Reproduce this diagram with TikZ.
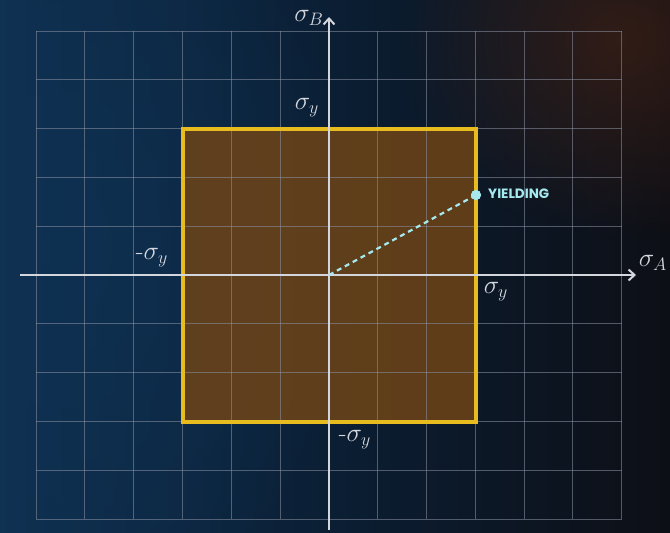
\documentclass[tikz,border=0pt]{standalone}
\usepackage{fontspec}
\setsansfont{Poppins}
\usetikzlibrary{arrows.meta,fadings}
\definecolor{bgleft}{HTML}{0F3152}
\definecolor{bgmid}{HTML}{0B1E33}
\definecolor{bgright}{HTML}{0D0F16}
\definecolor{glow}{HTML}{4A2414}
\definecolor{sqfill}{HTML}{6E4417}
\definecolor{sqedge}{HTML}{E8BC1E}
\definecolor{axiscol}{HTML}{D4D6DE}
\definecolor{gridcol}{HTML}{8C93A4}
\definecolor{cyanpt}{HTML}{A6EAF0}
\tikzfading[name=softglow, inner color=transparent!0, outer color=transparent!100]
\newcommand{\mlabtext}[1]{\scalebox{1.5}{#1}}
\tikzset{
  gridline/.style={draw=gridcol, line width=0.9pt, opacity=0.55},
  axisline/.style={draw=axiscol, line width=2.6pt, -{Straight Barb[length=6pt,width=11pt,line width=2pt]}},
  mathlabel/.style={text=axiscol, font=\fontsize{17}{20}\selectfont, inner sep=0pt},
  yieldlabel/.style={text=cyanpt, font=\sffamily\bfseries\fontsize{13.5}{15}\selectfont, inner sep=0pt, anchor=west},
}
\begin{document}
\begin{tikzpicture}[x=1pt,y=-1pt]
\useasboundingbox (0,0) rectangle (670,533);
% background
\shade[left color=bgleft, right color=bgright, middle color=bgmid] (0,0) rectangle (670,533);
\fill[bgleft, opacity=0.8, path fading=softglow] (60,250) ellipse (300 and 420);
\fill[glow, opacity=0.6, path fading=softglow] (620,40) ellipse (220 and 200);
% square region
\fill[sqfill, opacity=0.85] (183,129) rectangle (476,422);
% grid
\foreach \x in {36,84.8,133.6,182.4,231.2,280,328.8,377.6,426.4,475.2,524,572.8,621.6}
  \draw[gridline] (\x,31) -- (\x,519);
\foreach \y in {31,79.8,128.6,177.4,226.2,275,323.8,372.6,421.4,470.2,519}
  \draw[gridline] (36,\y) -- (621.6,\y);
% square edge
\draw[sqedge, line width=3.6pt] (183,129) rectangle (476,422);
% axes
\coordinate (xs) at (20,275);
\coordinate (xe) at (636,275);
\coordinate (ys) at (329,530);
\coordinate (ye) at (329,17);
\coordinate (o) at (329,275);
\draw[axisline] (xs) -- (xe);
\draw[axisline] (ys) -- (ye);
% labels
\node[mathlabel] (sB) at (309,18) {\mlabtext{$\sigma_B$}};
\node[mathlabel] (sA) at (653,263) {\mlabtext{$\sigma_A$}};
\node[mathlabel] (syt) at (307,108) {\mlabtext{$\sigma_y$}};
\node[mathlabel] (syl) at (152,258) {\mlabtext{-$\sigma_y$}};
\node[mathlabel] (syr) at (496,292) {\mlabtext{$\sigma_y$}};
\node[mathlabel] (syb) at (355,440) {\mlabtext{-$\sigma_y$}};
% yielding point
\node[circle, fill=cyanpt, minimum size=10pt, inner sep=0pt] (yp) at (476,195) {};
\draw[cyanpt, line width=2.2pt, dash pattern=on 5pt off 4pt] (o) -- (yp.center);
\node[circle, fill=cyanpt, minimum size=10pt, inner sep=0pt] at (yp.center) {};
\node[yieldlabel] (yl) at (488,194) {YIELDING};
\end{tikzpicture}
\end{document}
